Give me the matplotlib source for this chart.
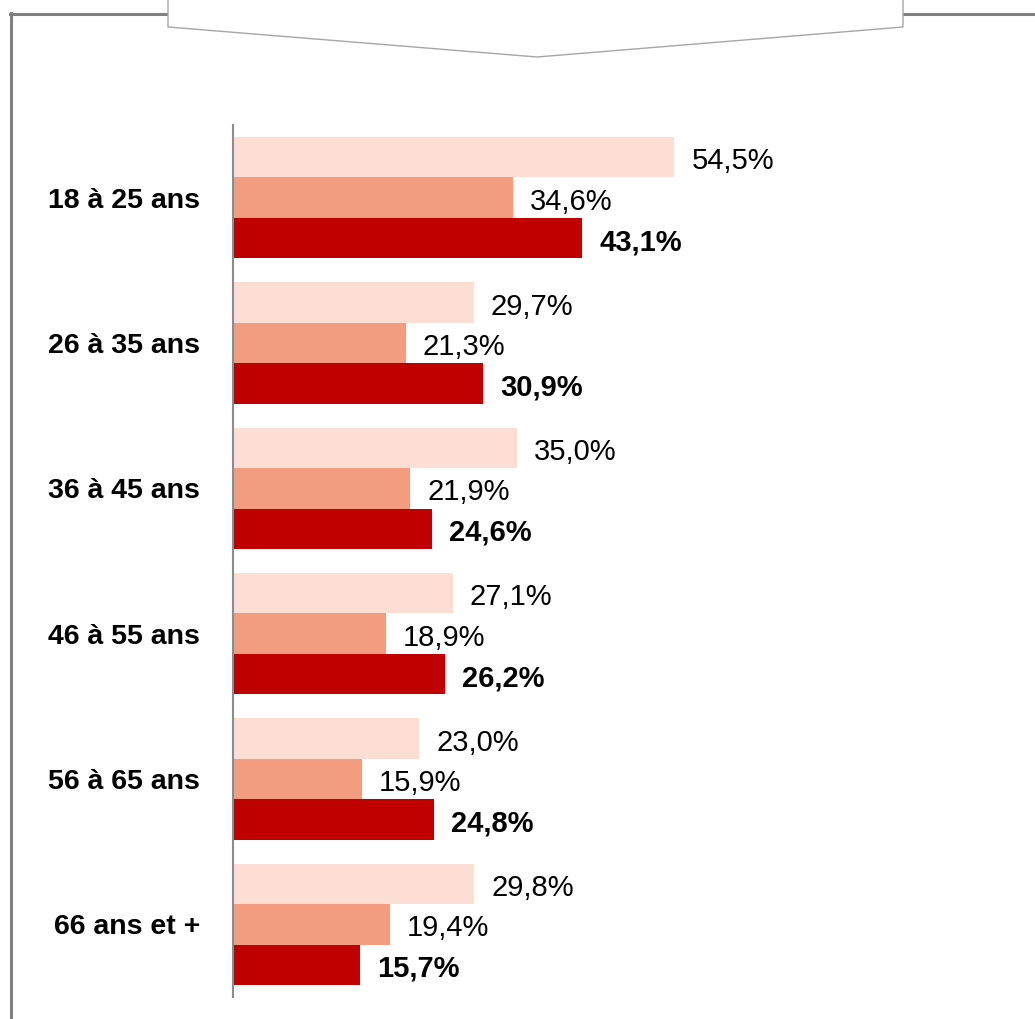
import matplotlib
matplotlib.use("Agg")
import matplotlib.pyplot as plt
from matplotlib.patches import Polygon
from matplotlib.lines import Line2D
import numpy as np

categories = ["18 à 25 ans", "26 à 35 ans", "36 à 45 ans", "46 à 55 ans", "56 à 65 ans", "66 ans et +"]
series_a = [54.5, 29.7, 35.0, 27.1, 23.0, 29.8]
series_b = [34.6, 21.3, 21.9, 18.9, 15.9, 19.4]
series_c = [43.1, 30.9, 24.6, 26.2, 24.8, 15.7]

colors = ["#FCDED4", "#F49C80", "#C00000"]
weights = ["normal", "normal", "bold"]

W, H = 1035, 1019
fig = plt.figure(figsize=(W / 100, H / 100), dpi=100)
plt.rcParams['font.family'] = ['Liberation Sans', 'DejaVu Sans']

# frame decoration
def fx(x):
    return x / W

def fy(y):
    return 1 - y / H

fig.add_artist(Line2D([fx(11), fx(11)], [fy(13), fy(H + 5)], color="#808080", lw=2.2,
                      transform=fig.transFigure, zorder=1))
fig.add_artist(Line2D([fx(10), fx(W + 5)], [fy(14), fy(14)], color="#808080", lw=2.2,
                      transform=fig.transFigure, zorder=1))
pent = Polygon([(fx(168), fy(-10)), (fx(903), fy(-10)), (fx(903), fy(27)), (fx(537), fy(57)), (fx(168), fy(27))],
               closed=True, facecolor="white", edgecolor="#A6A6A6", lw=1.0,
               transform=fig.transFigure, zorder=5)
fig.add_artist(pent)

left, right = 233, 1000
top, bottom = 125, 997
ax = fig.add_axes([fx(left), fy(bottom), (right - left) / W, (bottom - top) / H])
px_per_unit = 8.1
ax.set_xlim(0, (right - left) / px_per_unit)
ax.set_ylim(len(categories) - 0.5, -0.5)

y = np.arange(len(categories))
bh = 0.2777
for i, (vals, col, wt) in enumerate(zip([series_a, series_b, series_c], colors, weights)):
    pos = y + (i - 1) * bh
    ax.barh(pos, vals, height=bh, color=col, edgecolor="none")
    for p, v in zip(pos, vals):
        ax.annotate(f"{v:.1f}%".replace(".", ","), xy=(v, p), xytext=(12.2, -3),
                    textcoords="offset points", va="center", ha="left",
                    fontsize=21, fontweight=wt, color="black")

ax.set_yticks(y)
ax.set_yticklabels(categories, fontsize=20.5, fontweight="bold")
ax.tick_params(axis="y", length=0, pad=23.8)
ax.set_xticks([])
for s in ["top", "right", "bottom"]:
    ax.spines[s].set_visible(False)
ax.spines["left"].set_color("#8C8C8C")
ax.spines["left"].set_linewidth(1.5)

fig.savefig("out.png", dpi=100)
